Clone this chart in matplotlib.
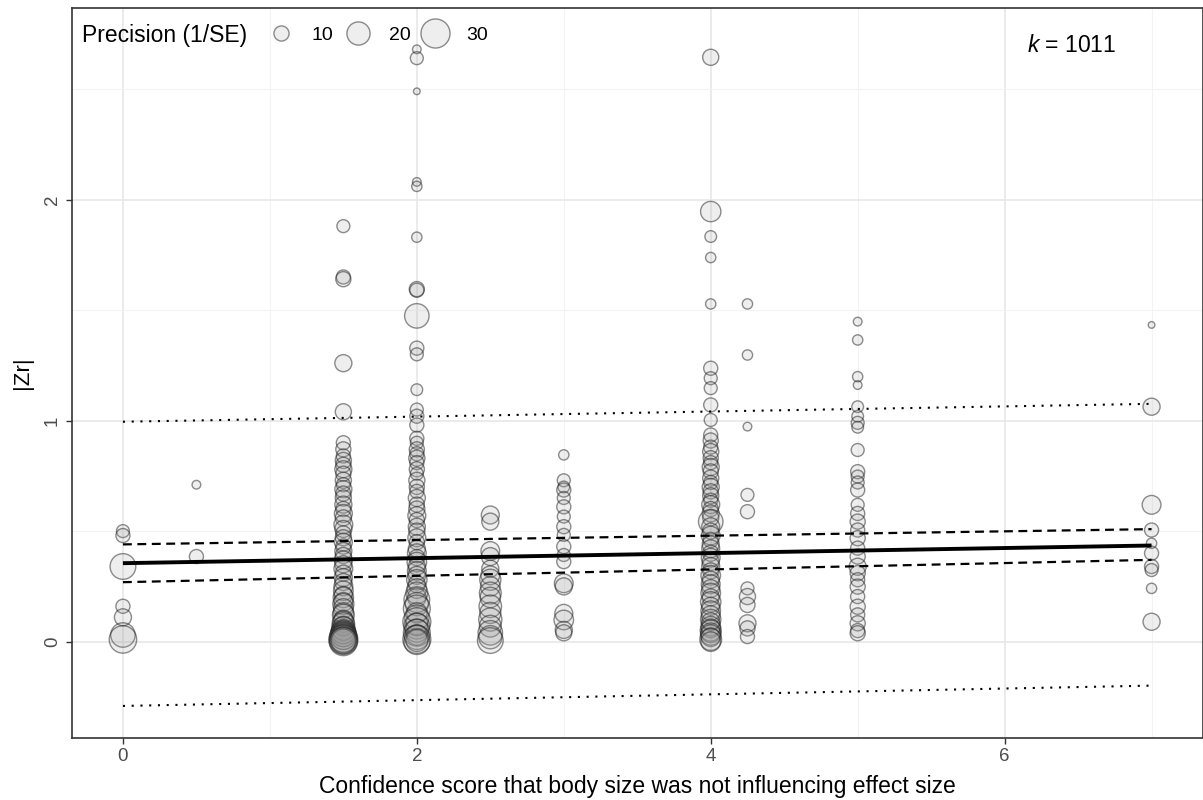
import numpy as np
import matplotlib
matplotlib.use("Agg")
import matplotlib.pyplot as plt
from matplotlib.lines import Line2D

plt.rcParams['font.family'] = ['Liberation Sans', 'DejaVu Sans']
plt.rcParams['mathtext.fontset'] = 'custom'
plt.rcParams['mathtext.it'] = 'Liberation Sans:italic'
plt.rcParams['mathtext.rm'] = 'Liberation Sans'

# |Zr| and precision (1/SE) per confidence score
y_c0 = [0.50, 0.48, 0.34, 0.16, 0.11, 0.03, 0.01]
p_c0 = [8, 9, 24, 9, 12, 22, 27]

y_c05 = [0.71, 0.385]
p_c05 = [5, 9]

y_c15 = [1.88, 1.65, 1.64, 1.26, 1.04,
         0.90, 0.87, 0.84, 0.82, 0.80, 0.78, 0.76, 0.73, 0.71, 0.69, 0.67, 0.65,
         0.62, 0.60, 0.58, 0.56, 0.53, 0.51, 0.49, 0.47, 0.45, 0.43, 0.41, 0.39,
         0.37, 0.35, 0.33, 0.31, 0.29, 0.27, 0.25, 0.23, 0.21, 0.20, 0.18, 0.17,
         0.15, 0.13, 0.12, 0.10, 0.09, 0.08, 0.07, 0.06, 0.05, 0.045, 0.04, 0.035,
         0.03, 0.025, 0.02, 0.015, 0.01, 0.008, 0.005, 0.002, 0.0]
p_c15 = [8, 9, 10, 12, 11,
         9, 10, 9, 11, 10, 12, 10, 11, 9, 12, 10, 11,
         12, 10, 13, 11, 14, 12, 10, 11, 13, 10, 12, 11,
         13, 12, 14, 11, 13, 12, 14, 15, 13, 16, 14, 17,
         15, 16, 18, 14, 17, 19, 15, 20, 16, 22, 18, 24,
         20, 26, 22, 28, 24, 30, 26, 22, 28]

y_c2 = [2.68, 2.64, 2.49, 2.08, 2.06, 1.83, 1.595, 1.59, 1.474, 1.328, 1.30, 1.14,
        1.05, 1.02, 0.98,
        0.92, 0.90, 0.87, 0.85, 0.83, 0.81, 0.78, 0.76, 0.73, 0.70, 0.68, 0.65,
        0.62, 0.60, 0.57, 0.55, 0.52, 0.50, 0.47, 0.45, 0.42, 0.40, 0.38, 0.36,
        0.34, 0.32, 0.30, 0.28, 0.26, 0.24, 0.22, 0.20, 0.19, 0.17, 0.15, 0.13,
        0.11, 0.09, 0.08, 0.07, 0.05, 0.04, 0.03, 0.02, 0.01, 0.005, 0.0]
p_c2 = [5, 8, 4, 5, 6, 6, 10, 9, 22, 9, 8, 7,
        8, 9, 9,
        9, 8, 10, 9, 11, 9, 10, 8, 11, 10, 9, 12,
        10, 11, 13, 10, 12, 11, 13, 10, 12, 14, 11, 15,
        12, 14, 13, 16, 12, 15, 18, 14, 24, 20, 26, 16,
        22, 28, 18, 24, 20, 26, 16, 22, 28, 18, 24]

y_c25 = [0.573, 0.543, 0.41, 0.385, 0.33, 0.30, 0.28, 0.25, 0.22, 0.20, 0.16,
         0.13, 0.10, 0.07, 0.04, 0.02, 0.005]
p_c25 = [13, 12, 14, 13, 12, 14, 17, 15, 18, 16, 19, 17, 20, 18, 22, 20, 24]

y_c3 = [0.845, 0.73, 0.70, 0.686, 0.65, 0.61, 0.566, 0.52, 0.483, 0.43, 0.392,
        0.362, 0.264, 0.25, 0.128, 0.098, 0.053, 0.04]
p_c3 = [6, 8, 7, 9, 8, 9, 8, 9, 8, 9, 8, 9, 14, 12, 13, 15, 12, 11]

y_c4 = [2.644, 1.946, 1.833, 1.738, 1.528, 1.237, 1.192, 1.147, 1.071, 1.003, 0.935,
        0.91, 0.88, 0.86, 0.83, 0.81, 0.79, 0.77, 0.74, 0.72, 0.70, 0.68, 0.66,
        0.64, 0.62, 0.60, 0.58, 0.56, 0.543, 0.52, 0.50, 0.48, 0.46, 0.44, 0.42,
        0.40, 0.38, 0.36, 0.34, 0.32, 0.30, 0.28, 0.26, 0.24, 0.22, 0.20, 0.18,
        0.16, 0.14, 0.12, 0.10, 0.09, 0.07, 0.06, 0.05, 0.04, 0.03, 0.02, 0.01, 0.0]
p_c4 = [11, 16, 7, 6, 6, 9, 8, 8, 9, 8, 9,
        10, 9, 11, 10, 9, 12, 10, 11, 9, 12, 10, 11,
        9, 13, 10, 12, 11, 22, 13, 11, 14, 10, 12, 13,
        11, 14, 12, 13, 11, 15, 12, 14, 13, 15, 12, 16,
        13, 15, 14, 16, 13, 15, 14, 17, 15, 16, 14, 18, 15]

y_c425 = [1.528, 1.297, 0.973, 0.664, 0.588, 0.241, 0.204, 0.166, 0.083, 0.06, 0.023]
p_c425 = [6, 6, 5, 8, 9, 8, 11, 10, 12, 10, 9]

y_c5 = [1.448, 1.365, 1.199, 1.161, 1.063, 1.02, 0.99, 0.97, 0.867, 0.769, 0.747,
        0.72, 0.686, 0.619, 0.58, 0.543, 0.505, 0.468, 0.423, 0.385, 0.339, 0.31,
        0.28, 0.249, 0.204, 0.158, 0.121, 0.083, 0.05, 0.038]
p_c5 = [5, 6, 6, 5, 7, 7, 8, 7, 8, 9, 8, 8, 9, 8, 9, 10, 9, 10, 9, 10, 12, 10,
        9, 10, 9, 10, 9, 10, 9, 10]

y_c7 = [1.433, 1.063, 0.619, 0.505, 0.445, 0.40, 0.34, 0.324, 0.241, 0.09]
p_c7 = [4, 12, 14, 9, 6, 9, 9, 8, 6, 12]

scores = [0, 0.5, 1.5, 2, 2.5, 3, 4, 4.25, 5, 7]
zr_cols = [y_c0, y_c05, y_c15, y_c2, y_c25, y_c3, y_c4, y_c425, y_c5, y_c7]
prec_cols = [p_c0, p_c05, p_c15, p_c2, p_c25, p_c3, p_c4, p_c425, p_c5, p_c7]

# meta-regression fit: mean, 95% CI, prediction interval at the ends
x_fit = [0, 7]
fit_mean = [0.355, 0.435]
ci_lo = [0.269, 0.370]
ci_hi = [0.440, 0.509]
pi_lo = [-0.291, -0.199]
pi_hi = [0.995, 1.076]

legend_prec = [10, 20, 30]
k_total = 1011

FILL = (0.6, 0.6, 0.6, 0.16)
EDGE = (0.12, 0.12, 0.12, 0.5)


def marker_area(prec):
    # ggplot-style area scaling, diameter in px -> scatter area in pt^2
    d_px = np.sqrt(np.maximum(-79 + 30.8 * np.asarray(prec, dtype=float), 36))
    return (0.72 * d_px) ** 2


fig = plt.figure(figsize=(12.03, 8), dpi=100)
ax = fig.add_axes([71.5 / 1203, 62 / 800, 1 - 71.5 / 1203, 730 / 800])

x_all = np.concatenate([np.full(len(y), s) for s, y in zip(scores, zr_cols)])
y_all = np.concatenate(zr_cols)
p_all = np.concatenate(prec_cols)
ax.scatter(x_all, y_all, s=marker_area(p_all), facecolor=FILL,
           edgecolor=EDGE, linewidth=1.0, zorder=3)

ax.plot(x_fit, pi_hi, color='black', lw=1.5, ls=(0, (1, 3.2)), zorder=4)
ax.plot(x_fit, pi_lo, color='black', lw=1.5, ls=(0, (1, 3.2)), zorder=4)
ax.plot(x_fit, ci_hi, color='black', lw=1.6, ls=(0, (4, 2.5)), zorder=4)
ax.plot(x_fit, ci_lo, color='black', lw=1.6, ls=(0, (4, 2.5)), zorder=4)
ax.plot(x_fit, fit_mean, color='black', lw=2.8, solid_capstyle='butt', zorder=5)

ax.set_xlim(-0.35, 7.35)
ax.set_ylim(-0.436, 2.867)
ax.set_xticks([0, 2, 4, 6])
ax.set_yticks([0, 1, 2])
ax.set_xticks([1, 3, 5, 7], minor=True)
ax.set_yticks([0.5, 1.5, 2.5], minor=True)
ax.grid(which='major', color='#e8e8e8', lw=1.2)
ax.grid(which='minor', color='#f3f3f3', lw=0.8)
ax.set_axisbelow(True)
ax.tick_params(which='minor', length=0)
ax.tick_params(which='major', length=4, width=1, color='#333333',
               labelsize=13.5, labelcolor='#4d4d4d')
for lab in ax.get_yticklabels():
    lab.set_rotation(90)
    lab.set_va('center')
for sp in ax.spines.values():
    sp.set_color('#333333')
    sp.set_linewidth(1.2)

ax.set_xlabel('Confidence score that body size was not influencing effect size',
              fontsize=16.5, labelpad=7)
ax.set_ylabel('|Zr|', fontsize=16, labelpad=8)

ax.text(0.884, 0.949, r'$k$ = %d' % k_total, transform=ax.transAxes,
        fontsize=16.5, ha='center', va='center')

ax.text(0.0097, 0.963, 'Precision (1/SE)', transform=ax.transAxes,
        fontsize=16.5, ha='left', va='center')
handles = [Line2D([], [], ls='none', marker='o', markersize=np.sqrt(marker_area(p)),
                  markerfacecolor=FILL, markeredgecolor=EDGE, markeredgewidth=1.0)
           for p in legend_prec]
ax.legend(handles, [str(p) for p in legend_prec], ncol=3, frameon=False,
          loc='center left', bbox_to_anchor=(0.173, 0.963), borderpad=0,
          borderaxespad=0, fontsize=14, handlelength=1.4, handletextpad=0.9,
          columnspacing=0.55)

fig.savefig('out.png', dpi=100)
